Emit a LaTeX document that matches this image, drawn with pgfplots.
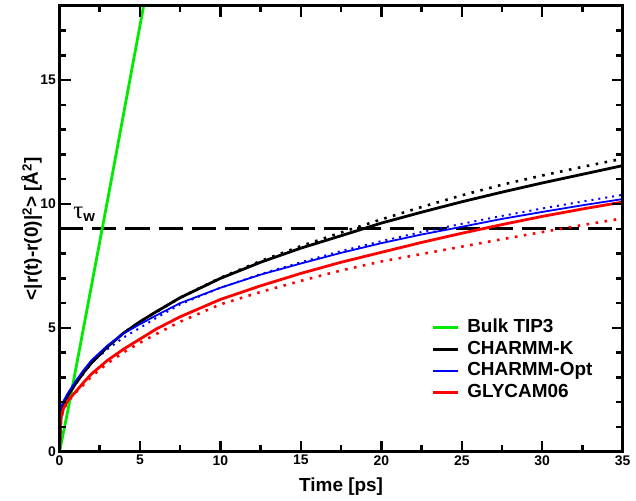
\documentclass[border=0pt]{standalone}
\usepackage{fontspec}
\setmainfont{Liberation Sans}
\newfontfamily\grfont{Liberation Serif}
\usepackage{pgfplots}
\pgfplotsset{compat=1.18}
\definecolor{cgreen}{RGB}{0,235,0}
\begin{document}
\begin{tikzpicture}
\pgfplotsset{myticks/.style={tick style={line width=2.5bp, black}, tick align=inside, major tick length=11bp, minor tick length=6.5bp, axis line style={line width=2.8bp}}}
\begin{axis}[
  myticks, axis on top,
  scale only axis, width=563.2bp, height=446bp,
  xmin=0, xmax=35, ymin=0, ymax=18,
  xtick={0,5,10,15,20,25,30,35}, ytick={0,5,10,15},
  xticklabels={0,5,10,15,20,25,30,35}, yticklabels={0,5,10,15},
  minor x tick num=1, minor y tick num=4,
  tick label style={font=\fontsize{14}{14}\selectfont\bfseries},
  xlabel={Time [ps]},
  ylabel={<|r(t)-r(0)|\textsuperscript{2}> [Å\textsuperscript{2}]},
  xlabel style={font=\fontsize{19}{19}\selectfont\bfseries, at={(axis description cs:0.5,-0.0895)}, anchor=base, inner sep=0pt},
  ylabel style={font=\fontsize{19}{19}\selectfont\bfseries, at={(axis description cs:-0.0382,0.5)}, anchor=base, inner sep=0pt},
  legend style={draw=none, fill=none, at={(axis description cs:0.661,0.303)}, anchor=north west,
    font=\fontsize{19}{19}\selectfont\bfseries, inner sep=0pt, row sep=0pt,
    nodes={inner sep=1.5bp, text height=14.5bp, text depth=4bp},
    /tikz/every odd column/.append style={column sep=6bp}},
  legend cell align=left,
  legend image code/.code={\draw[#1] (0bp,0bp) -- (25bp,0bp);},
  extra description/.code={
    \foreach \x in {0,5,10,15,20,25,30,35} {
      \draw[black, line width=2.5bp] (axis cs:\x,0) -- ++(0pt,11bp);
      \draw[black, line width=2.5bp] (axis cs:\x,18) -- ++(0pt,-11bp);
    }
    \foreach \x in {2.5,7.5,12.5,17.5,22.5,27.5,32.5} {
      \draw[black, line width=2.5bp] (axis cs:\x,0) -- ++(0pt,6.5bp);
      \draw[black, line width=2.5bp] (axis cs:\x,18) -- ++(0pt,-6.5bp);
    }
    \foreach \y in {0,5,10,15} {
      \draw[black, line width=2.5bp] (axis cs:0,\y) -- ++(11bp,0pt);
      \draw[black, line width=2.5bp] (axis cs:35,\y) -- ++(-11bp,0pt);
    }
    \foreach \y in {1,2,3,4,6,7,8,9,11,12,13,14,16,17} {
      \draw[black, line width=2.5bp] (axis cs:0,\y) -- ++(6.5bp,0pt);
      \draw[black, line width=2.5bp] (axis cs:35,\y) -- ++(-6.5bp,0pt);
    }
  },
]
% dashed tau_w line
\addplot[black, line width=3bp, dash pattern=on 24bp off 9bp, forget plot] coordinates {(0,9) (35,9)};
% dotted series
\addplot[black, line width=2.6bp, dash pattern=on 2.6bp off 6.5bp, forget plot] coordinates {
(0,0) (0.1,1.5) (0.25,1.9) (0.5,2.25) (1,2.75) (2,3.6) (3,4.25) (4,4.8) (5,5.25) (7.5,6.22) (10,7.02) (12.5,7.7) (15,8.3) (17.5,8.85) (20,9.38) (22.5,9.88) (25,10.35) (27.5,10.78) (30,11.15) (32.5,11.5) (35,11.83)};
\addplot[blue, line width=2bp, dash pattern=on 2bp off 5bp, forget plot] coordinates {
(0,0) (0.1,1.6) (0.25,1.95) (0.5,2.3) (1,2.8) (2,3.6) (3,4.15) (4,4.62) (5,5.0) (6,5.4) (7.5,5.95) (10,6.62) (12.5,7.17) (15,7.65) (17.5,8.1) (20,8.5) (22.5,8.87) (25,9.2) (27.5,9.52) (30,9.82) (32.5,10.1) (35,10.37)};
\addplot[red, line width=2.6bp, dash pattern=on 2.6bp off 6.5bp, forget plot] coordinates {
(0,0) (0.1,1.35) (0.25,1.7) (0.5,2.0) (1,2.38) (2,3.05) (3,3.58) (4,4.02) (5,4.4) (6,4.75) (7.5,5.25) (10,5.95) (12.5,6.45) (15,6.9) (17.5,7.32) (20,7.68) (22.5,7.98) (25,8.28) (27.5,8.58) (30,8.87) (32.5,9.15) (35,9.42)};
% solid series
\addplot[cgreen, line width=2.8bp] coordinates {
(0,0) (0.5,1.6) (1,3.3) (2,6.75) (3,10.2) (4,13.7) (5,17.2) (5.4,18.6)};
\addlegendentry{Bulk TIP3}
\addplot[black, line width=2.8bp] coordinates {
(0,0) (0.05,1.0) (0.1,1.5) (0.25,1.9) (0.5,2.25) (1,2.75) (1.5,3.2) (2,3.6) (3,4.25) (4,4.8) (5,5.25) (6,5.65) (7.5,6.22) (10,7.0) (12.5,7.65) (15,8.22) (17.5,8.72) (20,9.23) (22.5,9.67) (25,10.09) (27.5,10.48) (30,10.85) (32.5,11.2) (35,11.55)};
\addlegendentry{CHARMM-K}
\addplot[blue, line width=1.8bp] coordinates {
(0,0) (0.05,1.2) (0.1,1.8) (0.25,2.05) (0.5,2.35) (1,2.85) (1.5,3.3) (2,3.7) (3,4.3) (4,4.78) (5,5.15) (6,5.5) (7.5,6.0) (10,6.62) (12.5,7.15) (15,7.6) (17.5,8.03) (20,8.42) (22.5,8.77) (25,9.08) (27.5,9.4) (30,9.68) (32.5,9.95) (35,10.2)};
\addlegendentry{CHARMM-Opt}
\addplot[red, line width=2.8bp] coordinates {
(0,0) (0.05,1.0) (0.1,1.4) (0.25,1.75) (0.5,2.05) (1,2.42) (1.5,2.8) (2,3.15) (3,3.7) (4,4.15) (5,4.55) (6,4.95) (7.5,5.45) (10,6.15) (12.5,6.7) (15,7.2) (17.5,7.65) (20,8.05) (22.5,8.45) (25,8.82) (27.5,9.17) (30,9.5) (32.5,9.8) (35,10.08)};
\addlegendentry{GLYCAM06}
\node[anchor=base west, inner sep=0pt] at (axis cs:0.85,9.4) {{\grfont\fontsize{25}{25}\selectfont τ}\raisebox{-3bp}{\fontsize{15}{15}\selectfont\bfseries w}};
\end{axis}
\path (-59.5bp,-49.2bp) rectangle (576.5bp,451.8bp);
\end{tikzpicture}
\end{document}
